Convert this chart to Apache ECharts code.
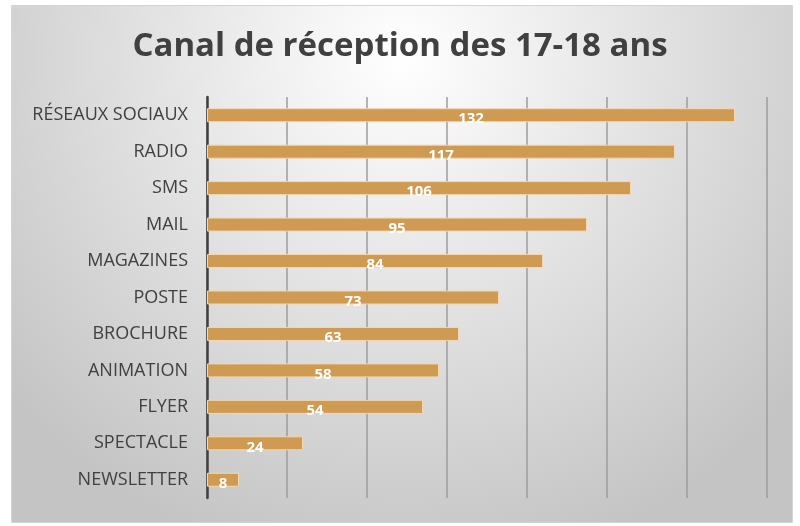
<!DOCTYPE html>
<html>
<head>
<meta charset="utf-8">
<script src="https://cdn.jsdelivr.net/npm/echarts@6/dist/echarts.min.js"></script>
<style>
  html, body { margin: 0; padding: 0; background: #ffffff; }
  #chart { width: 800px; height: 526px; }
</style>
</head>
<body>
<div id="chart"></div>
<script>
// Data
const categories = ['RÉSEAUX SOCIAUX', 'RADIO', 'SMS', 'MAIL', 'MAGAZINES', 'POSTE',
    'BROCHURE', 'ANIMATION', 'FLYER', 'SPECTACLE', 'NEWSLETTER'];
const counts = [132, 117, 106, 95, 84, 73, 63, 58, 54, 24, 8];

const FONT = '"Open Sans", sans-serif';
const TEXT = '#404040';
const BAR = '#CF9A51';

const chart = echarts.init(document.getElementById('chart'));
chart.setOption({
    backgroundColor: '#ffffff',
    animation: false,
    graphic: [{
        type: 'rect',
        left: 11,
        top: 5,
        z: -10,
        shape: { width: 781, height: 517 },
        style: {
            fill: new echarts.graphic.RadialGradient(0.5, 0.1, 1.0, [
                { offset: 0, color: '#ffffff' },
                { offset: 1, color: '#c4c4c4' }
            ]),
            stroke: '#d4d4d4',
            lineWidth: 1
        }
    }],
    title: {
        text: 'Canal de réception des 17-18 ans',
        left: 'center',
        top: 25,
        textStyle: {
            fontFamily: FONT,
            fontSize: 33,
            fontWeight: 'bold',
            color: TEXT
        }
    },
    grid: { left: 207, right: 33, top: 97, bottom: 28 },
    xAxis: {
        type: 'value',
        min: 0,
        max: 140,
        interval: 20,
        axisLabel: { show: false },
        axisLine: { show: false },
        axisTick: { show: false },
        splitLine: { lineStyle: { color: '#9c9c9c', width: 1.5 } }
    },
    yAxis: {
        type: 'category',
        inverse: true,
        data: categories,
        axisLine: { show: true, lineStyle: { color: TEXT, width: 2.5 } },
        axisTick: { show: false },
        axisLabel: {
            color: TEXT,
            fontFamily: FONT,
            fontSize: 18,
            margin: 19
        }
    },
    series: [{
        type: 'bar',
        data: counts,
        barWidth: 14,
        itemStyle: {
            color: BAR,
            borderColor: '#f3d6b2',
            borderWidth: 1
        },
        label: {
            show: true,
            position: 'inside',
            offset: [0, 4],
            color: '#ffffff',
            fontFamily: FONT,
            fontSize: 15,
            fontWeight: 'bold'
        }
    }]
});
</script>
</body>
</html>
